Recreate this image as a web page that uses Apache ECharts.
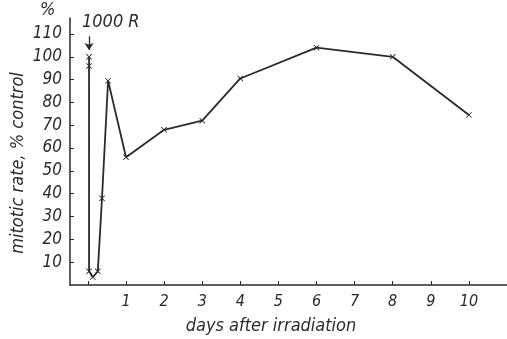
<!DOCTYPE html>
<html>
<head>
<meta charset="utf-8">
<script src="https://cdn.jsdelivr.net/npm/echarts@6/dist/echarts.min.js"></script>
<style>
  html, body { margin: 0; padding: 0; background: #fff; }
  #chart { width: 507px; height: 339px; }
</style>
</head>
<body>
<div id="chart"></div>
<script>
// days after irradiation / mitotic rate (% of control)
const days = [0.03, 0.03, 0.03, 0.13, 0.26, 0.37, 0.53, 1, 2, 3, 4, 6, 8, 10];
const rate = [100, 96, 6, 3.5, 6, 38, 89.5, 56, 68, 72, 90.5, 104, 100, 74.5];
const xTicks = [0, 1, 2, 3, 4, 5, 6, 7, 8, 9, 10];
const xLabels = [1, 2, 3, 4, 5, 6, 7, 8, 9, 10];
const yTicks = [10, 20, 30, 40, 50, 60, 70, 80, 90, 100, 110];

const FONT = "'Liberation Sans Narrow', 'DejaVu Sans Condensed', sans-serif";
const INK = '#2a2a2a';
const CROSS = 'path://M0,1L1,0L5,4L9,0L10,1L6,5L10,9L9,10L5,6L1,10L0,9L4,5Z';

const chart = echarts.init(document.getElementById('chart'));

chart.setOption({
  animation: false,
  backgroundColor: '#fff',
  grid: { left: 70, right: 0, top: 18, bottom: 54 },
  xAxis: {
    type: 'value',
    min: -0.47,
    max: 11,
    axisLine: { onZero: false, lineStyle: { color: INK, width: 1.5 } },
    axisTick: { inside: true, length: 4, customValues: xTicks, lineStyle: { color: INK } },
    axisLabel: {
      customValues: xLabels,
      margin: 9,
      color: INK,
      fontSize: 16,
      fontStyle: 'italic',
      fontFamily: FONT
    },
    splitLine: { show: false }
  },
  yAxis: {
    type: 'value',
    min: 0,
    max: 117,
    axisLine: { show: true, onZero: false, lineStyle: { color: INK, width: 1.5 } },
    axisTick: { show: true, inside: true, length: 4, customValues: yTicks, lineStyle: { color: INK } },
    axisLabel: {
      customValues: yTicks,
      margin: 8,
      color: INK,
      fontSize: 17,
      fontStyle: 'italic',
      fontFamily: FONT
    },
    splitLine: { show: false }
  },
  series: [{
    type: 'line',
    data: days.map((d, i) => [d, rate[i]]),
    symbol: CROSS,
    symbolSize: 6,
    showAllSymbol: true,
    lineStyle: { color: INK, width: 1.8 },
    itemStyle: { color: INK },
    markLine: {
      silent: true,
      symbol: ['none', 'arrow'],
      symbolSize: 7,
      label: { show: false },
      lineStyle: { color: INK, width: 1.3, type: 'solid' },
      data: [[{ coord: [0.03, 109] }, { coord: [0.03, 103] }]]
    }
  }],
  graphic: [
    {
      type: 'text', left: 82, top: 13,
      style: { text: '1000 R', fill: INK, fontSize: 18, fontStyle: 'italic', fontFamily: FONT }
    },
    {
      type: 'text', left: 40, top: 1,
      style: { text: '%', fill: INK, fontSize: 18, fontStyle: 'italic', fontFamily: FONT }
    },
    {
      type: 'text', x: 18, y: 163, rotation: Math.PI / 2,
      style: {
        text: 'mitotic rate, % control', fill: INK, fontSize: 18, fontStyle: 'italic',
        fontFamily: FONT, align: 'center', verticalAlign: 'middle'
      }
    },
    {
      type: 'text', x: 271, y: 326,
      style: {
        text: 'days after irradiation', fill: INK, fontSize: 18, fontStyle: 'italic',
        fontFamily: FONT, align: 'center', verticalAlign: 'middle'
      }
    }
  ]
});
</script>
</body>
</html>
